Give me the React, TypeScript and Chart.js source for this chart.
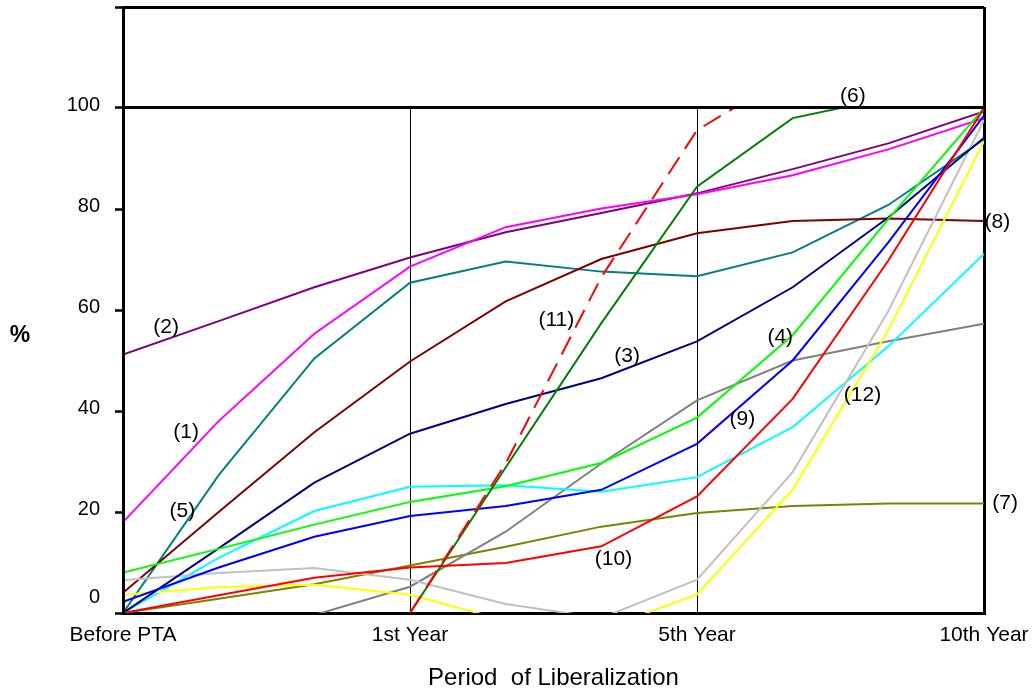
import React, { useEffect, useRef } from 'react';
import { Chart, registerables } from 'chart.js';

Chart.register(...registerables);

// x positions: 0 = Before PTA, 3 = 1st Year, 6 = 5th Year, 9 = 10th Year
const periods = [0, 1, 2, 3, 4, 5, 6, 7, 8, 9];
const xTickValues = [0, 3, 6, 9];
const xTickLabels = ['Before PTA', '1st Year', '5th Year', '10th Year'];
const yTickLabelValues = [20, 40, 60, 80, 100];

const seriesMagenta = [18, 38, 55.3, 68.6, 76.4, 80.1, 82.9, 86.7, 91.8, 98];
const seriesPurple = [51.2, 57.8, 64.5, 70.4, 75.4, 79.2, 83.1, 87.9, 93, 99.3];
const seriesNavy = [0, 12.8, 25.8, 35.5, 41.4, 46.5, 53.8, 64.5, 78.3, 94.1];
const seriesLime = [8, 12.7, 17.5, 22, 25.1, 29.7, 38.7, 55, 78, 100];
const seriesTeal = [0, 27.3, 50.4, 65.4, 69.6, 67.6, 66.7, 71.4, 80.8, 93.8];
const seriesGreen = [null, null, null, 0, 28.8, 57.4, 84.4, 98, 102];
const seriesOlive = [0, 2.8, 5.7, 9.4, 13.1, 17.1, 19.8, 21.2, 21.7, 21.7];
const seriesMaroon = [4, 20, 35.8, 49.8, 61.7, 70.1, 75.2, 77.6, 78.1, 77.6];
const seriesBlue = [2.2, 9, 15.1, 19.2, 21.2, 24.4, 33.5, 50, 73.4, 98.5];
const seriesRed = [0, 3.5, 7, 9, 9.9, 13.2, 23.1, 42.4, 69.8, 100];
const seriesRedDashed = [null, null, null, 0, 29.6, 66.5, 95.6, 107];
const seriesCyan = [0, 10.9, 20.2, 25, 25.3, 24, 26.9, 36.8, 52.8, 71.1];
const seriesGray = [-6, -3, -0.4, 5.2, 16.1, 29.6, 42.1, 50, 53.8, 57.3];
const seriesSilver = [6.5, 7.9, 8.9, 6.6, 1.8, -1, 6.6, 27.9, 59.8, 97.6];
const seriesYellow = [3.6, 5.1, 5.6, 3.6, -1.5, -3.3, 3.7, 24.4, 56, 93.4];

// line annotations (text, anchored in data units)
const annotationTexts = ['(1)', '(2)', '(3)', '(4)', '(5)', '(6)', '(7)', '(8)', '(9)', '(10)', '(11)', '(12)'];
const annotationX = [0.66, 0.45, 5.27, 6.87, 0.62, 7.63, 9.22, 9.14, 6.475, 5.127, 4.53, 7.73];
const annotationY = [35.8, 56.6, 50.9, 54.7, 20.2, 102.3, 21.8, 77.4, 38.3, 10.6, 58, 43.1];

const FONT = '"Liberation Sans", Arial, Helvetica, sans-serif';

function toPoints(values: (number | null)[]) {
  return values.map((v, i) => ({ x: periods[i], y: v }));
}

const overlayPlugin = {
  id: 'overlay',
  beforeDatasetsDraw(chart: any) {
    const { ctx, chartArea, scales } = chart;
    const x = scales.x;
    const y = scales.y;
    const top = y.getPixelForValue(100);
    const bottom = y.getPixelForValue(0);
    ctx.save();
    ctx.strokeStyle = '#000';
    ctx.lineWidth = 1;
    [3, 6].forEach((v) => {
      const px = Math.round(x.getPixelForValue(v)) + 0.5;
      ctx.beginPath();
      ctx.moveTo(px, top - 2);
      ctx.lineTo(px, bottom);
      ctx.stroke();
    });
    ctx.restore();
    ctx.save();
    ctx.beginPath();
    ctx.rect(chartArea.left - 2, top, chartArea.right - chartArea.left + 4, bottom - top + 2);
    ctx.clip();
  },
  afterDatasetsDraw(chart: any) {
    chart.ctx.restore();
  },
  afterDraw(chart: any) {
    const { ctx, chartArea, scales } = chart;
    const x = scales.x;
    const y = scales.y;
    ctx.save();
    ctx.fillStyle = '#000';
    ctx.textBaseline = 'middle';
    ctx.textAlign = 'center';
    ctx.font = `21px ${FONT}`;
    annotationTexts.forEach((t, i) => {
      ctx.fillText(t, x.getPixelForValue(annotationX[i]), y.getPixelForValue(annotationY[i]));
    });
    // zero label, drawn slightly above the axis as in the original
    ctx.font = `20px ${FONT}`;
    ctx.textAlign = 'right';
    ctx.fillText('0', chartArea.left - 23, y.getPixelForValue(0) - 16);
    // % axis label
    ctx.textAlign = 'center';
    ctx.font = `bold 23px ${FONT}`;
    ctx.fillText('%', 20, y.getPixelForValue(55));
    ctx.restore();
  },
};

export default function App() {
  const canvasRef = useRef<HTMLCanvasElement | null>(null);

  useEffect(() => {
    document.body.style.margin = '0';
    document.body.style.overflow = 'hidden';
    Chart.defaults.font.family = FONT;
    const canvas = canvasRef.current;
    if (!canvas) return;

    const defs: { data: (number | null)[]; color: string; dash?: number[] }[] = [
      { data: seriesRed, color: '#FF0000' },
      { data: seriesRedDashed, color: '#FF0000', dash: [20, 10] },
      { data: seriesGreen, color: '#008000' },
      { data: seriesLime, color: '#00FF00' },
      { data: seriesBlue, color: '#0000FF' },
      { data: seriesNavy, color: '#000080' },
      { data: seriesYellow, color: '#FFFF00' },
      { data: seriesSilver, color: '#C0C0C0' },
      { data: seriesCyan, color: '#00FFFF' },
      { data: seriesGray, color: '#808080' },
      { data: seriesOlive, color: '#808000' },
      { data: seriesMaroon, color: '#800000' },
      { data: seriesTeal, color: '#008080' },
      { data: seriesMagenta, color: '#FF00FF' },
      { data: seriesPurple, color: '#800080' },
    ];

    const chart = new Chart(canvas, {
      type: 'line',
      data: {
        datasets: defs.map((d) => ({
          data: toPoints(d.data),
          borderColor: d.color,
          backgroundColor: d.color,
          borderDash: d.dash || [],
          borderWidth: 2,
          pointRadius: 0,
          tension: 0,
          fill: false,
          spanGaps: false,
        })),
      },
      options: {
        animation: false,
        responsive: false,
        layout: { padding: { left: 0, right: 52, top: 7, bottom: 0 } },
        plugins: { legend: { display: false }, tooltip: { enabled: false } },
        scales: {
          x: {
            type: 'linear',
            min: 0,
            max: 9,
            afterFit: (s: any) => {
              s.height = 83;
              s.paddingLeft = 0;
              s.paddingRight = 0;
            },
            ticks: {
              stepSize: 3,
              autoSkip: false,
              maxRotation: 0,
              padding: 10,
              color: '#000',
              font: { size: 21 },
              callback: (v: any) => {
                const i = xTickValues.indexOf(Number(v));
                return i >= 0 ? xTickLabels[i] : '';
              },
            },
            grid: {
              drawTicks: false,
              lineWidth: 3,
              color: (c: any) => (c.tick && c.tick.value === 9 ? '#000' : 'rgba(0,0,0,0)'),
            },
            border: { display: true, color: '#000', width: 3 },
            title: {
              display: true,
              text: 'Period  of Liberalization',
              color: '#000',
              font: { size: 24 },
              padding: { top: 0, bottom: 3 },
            },
          },
          y: {
            type: 'linear',
            min: 0,
            max: 120,
            afterFit: (s: any) => {
              s.width = 123;
              s.paddingTop = 0;
              s.paddingBottom = 0;
            },
            ticks: {
              stepSize: 20,
              padding: 15,
              labelOffset: -3,
              color: '#000',
              font: { size: 20 },
              callback: (v: any) => (yTickLabelValues.includes(Number(v)) ? String(v) : ''),
            },
            grid: {
              z: 1,
              lineWidth: 3,
              tickLength: 8,
              tickWidth: 2.5,
              tickColor: '#000',
              color: (c: any) =>
                c.tick && (c.tick.value === 100 || c.tick.value === 120) ? '#000' : 'rgba(0,0,0,0)',
            },
            border: { display: true, color: '#000', width: 3, z: 1 },
          },
        },
      },
      plugins: [overlayPlugin],
    } as any);

    return () => {
      chart.destroy();
    };
  }, []);

  return (
    <div style={{ width: 1036, height: 696, position: 'relative', background: '#fff' }}>
      <canvas ref={canvasRef} width={1036} height={696} style={{ display: 'block' }} />
    </div>
  );
}
